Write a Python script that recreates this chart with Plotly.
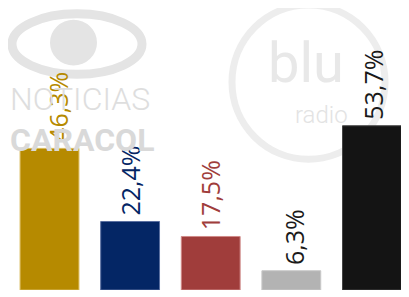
import plotly.graph_objects as go

categories = ["A", "B", "C", "D", "E"]
values = [46.3, 22.4, 17.5, 6.3, 53.7]
labels = ["46,3%", "22,4%", "17,5%", "6,3%", "53,7%"]
bar_colors = ["#B68A00", "#042665", "#A03D3B", "#B3B3B3", "#141414"]
edge_colors = ["#D9B95A", "#5A6FA0", "#D08A88", "#C8C8C8", "#444444"]
label_colors = ["#B68A00", "#042665", "#A03D3B", "#1A1A1A", "#1A1A1A"]
label_xshift = [9, 0, 0, 2, 1]

# page body has an 8px default margin; the figure is sized to the visible area
OFF = 8
W, H = 409 - OFF, 297 - OFF
wm = "#E4E4E4"

fig = go.Figure()
fig.add_trace(go.Bar(
    x=list(range(len(categories))), y=values,
    marker=dict(color=bar_colors, line=dict(color=edge_colors, width=1)),
    width=0.73, hoverinfo="skip",
))

for i, (v, t) in enumerate(zip(values, labels)):
    fig.add_annotation(x=i, y=v, text=t, textangle=-90, showarrow=False,
                       xanchor="center", yanchor="bottom", yshift=4, xshift=label_xshift[i],
                       font=dict(family="Open Sans", size=25, color=label_colors[i]))

def px(x):
    return (x - OFF) / W

def py(y):
    return 1 - (y - OFF) / H

shapes = []
# Caracol logo swoosh + circle
shapes.append(dict(type="circle", xref="paper", yref="paper", x0=px(12), x1=px(142), y0=py(76), y1=py(14),
                   line=dict(color=wm, width=9), layer="below"))
shapes.append(dict(type="circle", xref="paper", yref="paper", x0=px(50), x1=px(97), y0=py(67), y1=py(20),
                   fillcolor=wm, line=dict(width=0), layer="below"))
# blu radio ring
shapes.append(dict(type="circle", xref="paper", yref="paper", x0=px(232), x1=px(385), y0=py(163), y1=py(5),
                   line=dict(color="#EDEDED", width=7), layer="below"))

fig.update_layout(shapes=shapes)

wm_texts = [
    ("NOTICIAS", 80, 101, 32, 300, "#DEDEDE"),
    ("CARACOL", 82, 143, 32, 700, "#D9D9D9"),
    ("blu", 306, 64, 56, 400, "#E8E8E8"),
    ("radio", 321, 118, 24, 300, "#E3E3E3"),
]
for t, cx, cy, sz, wt, col in wm_texts:
    fig.add_annotation(xref="paper", yref="paper", x=px(cx), y=py(cy), text=t, showarrow=False,
                       xanchor="center", yanchor="middle",
                       font=dict(family="Roboto", size=sz, weight=wt, color=col))

fig.update_layout(
    width=W, height=H,
    margin=dict(l=0, r=0, t=0, b=7),
    paper_bgcolor="white", plot_bgcolor="rgba(0,0,0,0)",
    showlegend=False,
    xaxis=dict(range=[-0.515, 4.46], visible=False, fixedrange=True),
    yaxis=dict(range=[0, 92.2], visible=False, fixedrange=True),
)

fig.write_html("out.html")
